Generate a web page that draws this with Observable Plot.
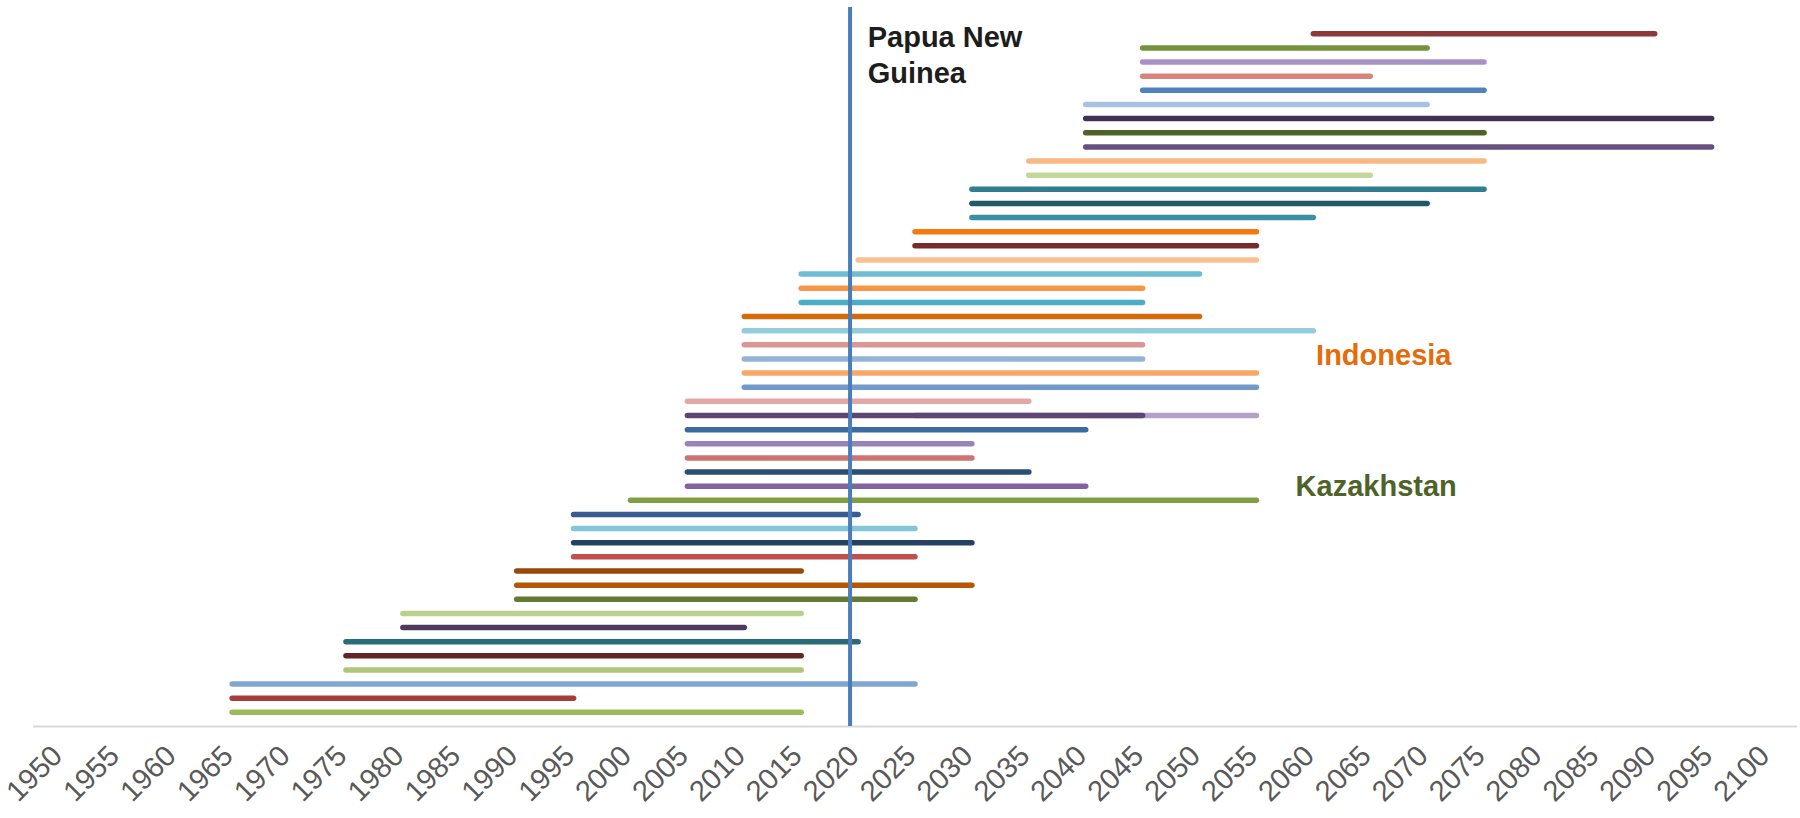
<!DOCTYPE html>
<html>
<head>
<meta charset="utf-8">
<script src="https://cdn.jsdelivr.net/npm/d3@7"></script>
<script src="https://cdn.jsdelivr.net/npm/@observablehq/plot@0.6"></script>
<style>
  html, body { margin: 0; padding: 0; background: #ffffff; }
  #chart svg { display: block; }
</style>
</head>
<body>
<div id="chart"></div>
<script>
// ---- Data (rows listed from top to bottom) ----
const startYear = [
  2060, 2045, 2045, 2045, 2045, 2040, 2040, 2040, 2040, 2035,
  2035, 2030, 2030, 2030, 2025, 2025, 2020, 2015, 2015, 2015,
  2010, 2010, 2010, 2010, 2010, 2010, 2005, 2025, 2005, 2005,
  2005, 2005, 2005, 2000, 1995, 1995, 1995, 1995, 1990, 1990,
  1990, 1980, 1980, 1975, 1975, 1975, 1965, 1965, 1965
];
const endYear = [
  2090, 2070, 2075, 2065, 2075, 2070, 2095, 2075, 2095, 2075,
  2065, 2075, 2070, 2060, 2055, 2055, 2055, 2050, 2045, 2045,
  2050, 2060, 2045, 2045, 2055, 2055, 2035, 2055, 2040, 2030,
  2030, 2035, 2040, 2055, 2020, 2025, 2030, 2025, 2015, 2030,
  2025, 2015, 2010, 2020, 2015, 2015, 2025, 1995, 2015
];
// second segment sharing row 28 from the top (drawn over the light one)
const overlayRowFromTop = [27];
const overlayStart = [2005];
const overlayEnd = [2045];

const tickYears = d3.range(1950, 2101, 5);
const currentYear = 2019.25;

const labelText = ["Papua New\nGuinea", "Indonesia", "Kazakhstan"];

// ---- Styles ----
const palette = [
  "#8b3a39", "#76923c", "#a692c3", "#d7847f", "#4f81bd", "#a9c1e1", "#403152", "#4f6228", "#65507f", "#f9b882",
  "#c4d79b", "#317d90", "#215968", "#3a8fa6", "#f47a10", "#772c2a", "#fac090", "#6fbdd1", "#f79646", "#4bacc6",
  "#d46a0a", "#93cddd", "#da9694", "#95b3d7", "#f7a866", "#729aca", "#e3a8a6", "#b3a2c7", "#3b6aa0", "#9984b9",
  "#cd7372", "#2c4d75", "#8064a2", "#7f9f42", "#375c8d", "#84c6d8", "#254265", "#c0504d", "#984807", "#b65708",
  "#637a31", "#bad08c", "#4d3b5f", "#2a6b79", "#632523", "#adc67a", "#80a7d1", "#a33e3c", "#9bbb59"
];
const overlayColor = ["#5b4675"];
const labelColor = ["#1d1d1b", "#e46c0a", "#4f6228"];

// ---- Build tables ----
const n = startYear.length;
const rows = startYear.map((s, i) => ({ row: n - 1 - i, start: s, end: endYear[i], color: palette[i] }));
const overlay = overlayStart.map((s, i) => ({ row: n - 1 - overlayRowFromTop[i], start: s, end: overlayEnd[i], color: overlayColor[i] }));
const labels = [
  { text: labelText[0], x: 2020.8, y: 48.87, color: labelColor[0] },
  { text: labelText[1], x: 2060.2, y: 26.36, color: labelColor[1] },
  { text: labelText[2], x: 2058.4, y: 17.13, color: labelColor[2] }
];

const chart = Plot.plot({
  width: 1800,
  height: 818,
  marginLeft: 33,
  marginRight: 3,
  marginTop: 7,
  marginBottom: 92,
  x: { domain: [1947.5, 2102.5], axis: null },
  y: { domain: [-1, 49.86], axis: null },
  style: { fontFamily: "'Liberation Sans', Arial, sans-serif", background: "#ffffff" },
  marks: [
    Plot.ruleY([-1], { stroke: "#d9d9d9", strokeWidth: 2 }),
    Plot.ruleY(rows, { y: "row", x1: "start", x2: "end", stroke: d => d.color, strokeWidth: 5.5, strokeLinecap: "round" }),
    Plot.ruleY(overlay, { y: "row", x1: "start", x2: "end", stroke: d => d.color, strokeWidth: 5.5, strokeLinecap: "round" }),
    Plot.ruleX([currentYear], { stroke: "#4a7ebb", strokeWidth: 4 }),
    Plot.text(tickYears, {
      x: d => d, text: d => String(d), frameAnchor: "bottom", dy: 31, dx: 2,
      rotate: -45, textAnchor: "end", fontSize: 29, fill: "#595959"
    }),
    Plot.text(labels, {
      x: "x", y: "y", text: "text", fill: d => d.color, textAnchor: "start", lineAnchor: "top",
      fontSize: 29, fontWeight: "bold", lineHeight: 1.24
    })
  ]
});
document.getElementById("chart").appendChild(chart);
</script>
</body>
</html>
